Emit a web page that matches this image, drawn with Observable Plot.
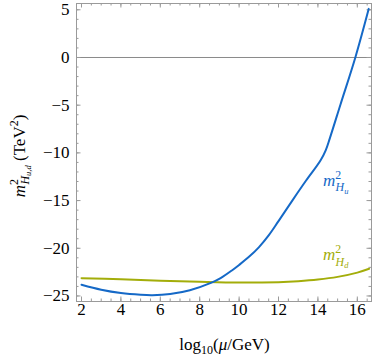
<!DOCTYPE html>
<html>
<head>
<meta charset="utf-8">
<script src="https://cdn.jsdelivr.net/npm/d3@7"></script>
<script src="https://cdn.jsdelivr.net/npm/@observablehq/plot@0.6"></script>
<style>
  html, body { margin: 0; padding: 0; background: #fff; }
  svg { display: block; }
  svg text { font-family: 'Liberation Serif', 'Times New Roman', serif !important; }
</style>
</head>
<body>
<div id="chart"></div>
<script>
// Data
const muLogHu = [2, 3, 4, 5, 5.6, 6.5, 7.5, 8.6, 9.06, 9.65, 10, 10.5, 11, 11.5, 12, 12.7, 13.4, 14.13, 14.4, 14.6, 15.15, 15.9, 16.58];
const m2Hu    = [-23.83, -24.35, -24.7, -24.88, -24.92, -24.8, -24.4, -23.6, -23.13, -22.3, -21.75, -20.9, -19.9, -18.65, -17.15, -15.0, -12.9, -10.8, -9.7, -8.5, -4.9, 0, 5.1];
const muLogHd = [2, 4, 6, 8, 10, 12, 13, 14, 15, 16, 16.6];
const m2Hd    = [-23.13, -23.25, -23.4, -23.52, -23.6, -23.55, -23.45, -23.28, -23.0, -22.55, -22.15];

const xTicks = [2, 4, 6, 8, 10, 12, 14, 16];
const yTicks = [-25, -20, -15, -10, -5, 0, 5];
const xMinorTicks = d3.range(2, 16.51, 0.5);
const yMinorTicks = d3.range(-25, 5.01, 1);

const huData = muLogHu.map((x, i) => ({x, y: m2Hu[i]}));
const hdData = muLogHd.map((x, i) => ({x, y: m2Hd[i]}));

const W = 374, H = 360;
const mL = 76, mR = 3, mT = 3, mB = 59;
const pw = W - mL - mR, ph = H - mT - mB;
const blue = "#1569c7", green = "#a3ad0a", frameC = "#9a9a9a";
const font = "'Liberation Serif', 'Times New Roman', serif";

const plot = Plot.plot({
  width: W, height: H,
  marginLeft: mL, marginRight: mR, marginTop: mT, marginBottom: mB,
  style: {fontFamily: font, fontSize: "17px", color: "#000", background: "#fff"},
  x: {domain: [1.746, 16.72]},
  y: {domain: [-25.58, 5.66]},
  marks: [
    Plot.ruleY([0], {stroke: "#8a8a8a", strokeWidth: 1}),
    // inward minor / major ticks on all four sides
    Plot.tickX(xMinorTicks, {stroke: frameC, insetTop: ph - 2.5}),
    Plot.tickX(xMinorTicks, {stroke: frameC, insetBottom: ph - 2.5}),
    Plot.tickX(xTicks, {stroke: frameC, insetTop: ph - 4.5}),
    Plot.tickX(xTicks, {stroke: frameC, insetBottom: ph - 4.5}),
    Plot.tickY(yMinorTicks, {stroke: frameC, insetRight: pw - 2.5}),
    Plot.tickY(yMinorTicks, {stroke: frameC, insetLeft: pw - 2.5}),
    Plot.tickY(yTicks, {stroke: frameC, insetRight: pw - 4.5}),
    Plot.tickY(yTicks, {stroke: frameC, insetLeft: pw - 4.5}),
    Plot.frame({stroke: frameC, strokeWidth: 1}),
    Plot.axisX(xTicks, {tickSize: 0, tickPadding: 1, fontSize: 17, fontFamily: font, fill: "#000", label: null, tickFormat: d => String(d)}),
    Plot.axisY(yTicks, {tickSize: 0, tickPadding: 7, fontSize: 17, fontFamily: font, fill: "#000", label: null, tickFormat: d => d < 0 ? "\u2212" + Math.abs(d) : String(d)}),
    Plot.line(hdData, {x: "x", y: "y", stroke: green, strokeWidth: 2, curve: "catmull-rom"}),
    Plot.line(huData, {x: "x", y: "y", stroke: blue, strokeWidth: 2, curve: "catmull-rom"})
  ]
});

const svg = d3.select(plot).style("font-family", font);
const sx = plot.scale("x"), sy = plot.scale("y");

function massLabel(g, sub, size) {
  g.append("tspan").attr("font-style", "italic").text("m");
  g.append("tspan").attr("font-size", size * 0.7).attr("dy", -size * 0.42).text("2");
  g.append("tspan").attr("font-style", "italic").attr("font-size", size * 0.7).attr("dx", -size * 0.33).attr("dy", size * 0.74).text("H");
  g.append("tspan").attr("font-style", "italic").attr("font-size", size * 0.5).attr("dy", size * 0.15).text(sub);
}

// curve labels
const lblSize = 17;
const tu = svg.append("text").attr("x", sx.apply(14.28)).attr("y", sy.apply(-13.5))
  .attr("text-anchor", "start").attr("fill", blue).attr("font-family", font).attr("font-size", lblSize);
massLabel(tu, "u", lblSize);
const td = svg.append("text").attr("x", sx.apply(14.28)).attr("y", sy.apply(-21.3))
  .attr("text-anchor", "start").attr("fill", green).attr("font-family", font).attr("font-size", lblSize);
massLabel(td, "d", lblSize);

// x axis label
const xl = svg.append("text").attr("x", mL + pw / 2 + 1).attr("y", 350)
  .attr("text-anchor", "middle").attr("font-family", font).attr("font-size", 17).attr("fill", "#000");
xl.append("tspan").text("log");
xl.append("tspan").attr("font-size", 12).attr("dy", 4).text("10");
xl.append("tspan").attr("dy", -4).text("(");
xl.append("tspan").attr("font-style", "italic").text("\u03bc");
xl.append("tspan").text("/GeV)");

// y axis label
const yl = svg.append("text").attr("transform", `translate(25,${mT + ph / 2 + 4}) rotate(-90)`)
  .attr("text-anchor", "middle").attr("font-family", font).attr("font-size", 17).attr("fill", "#000");
yl.append("tspan").attr("font-style", "italic").text("m");
yl.append("tspan").attr("font-size", 12).attr("dy", -7).text("2");
yl.append("tspan").attr("font-style", "italic").attr("font-size", 12).attr("dx", -5.5).attr("dy", 11).text("H");
yl.append("tspan").attr("font-style", "italic").attr("font-size", 8.5).attr("dy", 2).text("u,d");
yl.append("tspan").attr("dy", -6).text(" (TeV");
yl.append("tspan").attr("font-size", 12).attr("dy", -7).text("2");
yl.append("tspan").attr("dy", 7).text(")");

document.getElementById("chart").appendChild(plot);
</script>
</body>
</html>
